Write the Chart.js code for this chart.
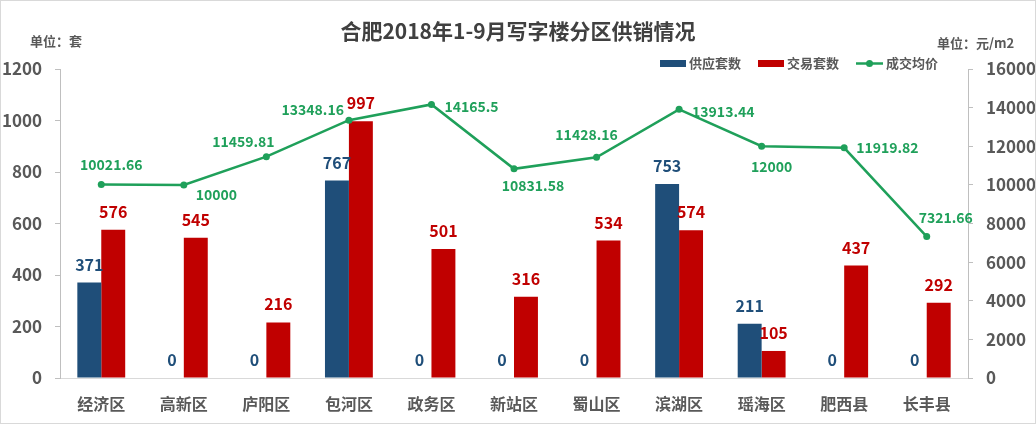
<!DOCTYPE html>
<html>
<head>
<meta charset="utf-8">
<script src="https://cdn.jsdelivr.net/npm/chart.js@4/dist/chart.umd.min.js"></script>
<style>
  html, body { margin: 0; padding: 0; background: #fff; }
  #wrap { width: 1036px; height: 424px; }
</style>
</head>
<body>
<div id="wrap"><canvas id="officeChart" width="1036" height="424"></canvas></div>
<script>
const districts = ["经济区", "高新区", "庐阳区", "包河区", "政务区", "新站区", "蜀山区", "滨湖区", "瑶海区", "肥西县", "长丰县"];
const supplyUnits = [371, 0, 0, 767, 0, 0, 0, 753, 211, 0, 0];
const dealUnits = [576, 545, 216, 997, 501, 316, 534, 574, 105, 437, 292];
const avgPrice = [10021.66, 10000, 11459.81, 13348.16, 14165.5, 10831.58, 11428.16, 13913.44, 12000, 11919.82, 7321.66];
const unitTicks = [0, 200, 400, 600, 800, 1000, 1200];
const priceTicks = [0, 2000, 4000, 6000, 8000, 10000, 12000, 14000, 16000];

// where each price label sits relative to its point: [dx, dy, align]
const priceLabelPos = [
    [10, -20, "center"], [12, 10, "left"], [-23, -15, "center"], [-5, -11, "right"],
    [13, 2, "left"], [19, 17, "center"], [-10, -23, "center"], [13, 2, "left"],
    [10, 20, "center"], [12, 0, "left"], [19, -19, "center"]
];

const BLUE = "#1F4E79";
const RED = "#C00000";
const GREEN = "#1FA05A";
const GREY = "#595959";
const FONT = "'Noto Sans CJK SC', 'Noto Sans', sans-serif";

const decorPlugin = {
    id: "decor",
    afterDatasetsDraw(chart) {
        const ctx = chart.ctx;
        ctx.save();
        ctx.textBaseline = "middle";

        // bar value labels
        [[0, BLUE], [1, RED]].forEach(([di, color]) => {
            const meta = chart.getDatasetMeta(di);
            const values = chart.data.datasets[di].data;
            ctx.fillStyle = color;
            ctx.font = "bold 16px " + FONT;
            ctx.textAlign = "center";
            meta.data.forEach((bar, i) => {
                ctx.fillText(String(values[i]), bar.x, bar.y - 18);
            });
        });

        // price labels
        const lineMeta = chart.getDatasetMeta(2);
        ctx.fillStyle = GREEN;
        ctx.font = "bold 14px " + FONT;
        lineMeta.data.forEach((pt, i) => {
            const [dx, dy, align] = priceLabelPos[i];
            ctx.textAlign = align;
            ctx.fillText(String(avgPrice[i]), pt.x + dx, pt.y + dy);
        });
        ctx.restore();
    },
    afterDraw(chart) {
        const ctx = chart.ctx;
        ctx.save();
        ctx.textBaseline = "middle";

        // title
        ctx.fillStyle = "#404040";
        ctx.font = "bold 21px " + FONT;
        ctx.textAlign = "center";
        ctx.fillText("合肥2018年1-9月写字楼分区供销情况", 518, 31);

        // unit notes
        ctx.fillStyle = GREY;
        ctx.font = "bold 13px " + FONT;
        ctx.textAlign = "left";
        ctx.fillText("单位：套", 30, 41);
        ctx.fillText("单位：元/m2", 937, 43);

        // legend
        ctx.font = "bold 13px " + FONT;
        ctx.fillStyle = BLUE;
        ctx.fillRect(660, 60, 26, 7);
        ctx.fillStyle = RED;
        ctx.fillRect(758, 60, 26, 7);
        ctx.strokeStyle = GREEN;
        ctx.lineWidth = 2.5;
        ctx.beginPath();
        ctx.moveTo(856, 63.5);
        ctx.lineTo(883, 63.5);
        ctx.stroke();
        ctx.fillStyle = GREEN;
        ctx.beginPath();
        ctx.arc(869.5, 63.5, 3.5, 0, Math.PI * 2);
        ctx.fill();
        ctx.fillStyle = GREY;
        ctx.fillText("供应套数", 689, 63);
        ctx.fillText("交易套数", 787, 63);
        ctx.fillText("成交均价", 886, 63);

        // frame
        ctx.strokeStyle = "#d9d9d9";
        ctx.lineWidth = 1;
        ctx.strokeRect(0.5, 0.5, 1035, 423);
        ctx.restore();
    }
};

new Chart(document.getElementById("officeChart").getContext("2d"), {
    data: {
        labels: districts,
        datasets: [
            {
                type: "bar",
                label: "供应套数",
                data: supplyUnits,
                backgroundColor: BLUE,
                yAxisID: "y",
                order: 2,
                barPercentage: 1,
                categoryPercentage: 0.58,
            },
            {
                type: "bar",
                label: "交易套数",
                data: dealUnits,
                backgroundColor: RED,
                yAxisID: "y",
                order: 2,
                barPercentage: 1,
                categoryPercentage: 0.58,
            },
            {
                type: "line",
                label: "成交均价",
                data: avgPrice,
                borderColor: GREEN,
                backgroundColor: GREEN,
                borderWidth: 2.5,
                pointRadius: 3.5,
                pointBackgroundColor: GREEN,
                pointBorderWidth: 0,
                tension: 0,
                yAxisID: "y1",
                order: 0,
            },
        ],
    },
    options: {
        responsive: false,
        animation: false,
        devicePixelRatio: 1,
        layout: { padding: { top: 69, left: 0, right: 0, bottom: 0 } },
        plugins: {
            legend: { display: false },
            title: { display: false },
            tooltip: { enabled: false },
        },
        scales: {
            x: {
                grid: { display: false, drawTicks: false },
                border: { display: true, color: "#d9d9d9" },
                ticks: { color: GREY, font: { family: FONT, size: 16, weight: "bold" }, padding: 16, maxRotation: 0 },
                afterFit(scale) { scale.height = 46; },
            },
            y: {
                position: "left",
                min: unitTicks[0],
                max: unitTicks[unitTicks.length - 1],
                afterBuildTicks(scale) { scale.ticks = unitTicks.map(v => ({ value: v })); },
                grid: { drawOnChartArea: false, tickLength: 5, color: "#bfbfbf" },
                border: { display: true, color: "#bfbfbf" },
                ticks: {
                    color: GREY, font: { family: FONT, size: 17, weight: "bold" }, padding: 13,
                    callback: v => String(v),
                },
                afterFit(scale) { scale.width = 60; },
            },
            y1: {
                position: "right",
                min: priceTicks[0],
                max: priceTicks[priceTicks.length - 1],
                afterBuildTicks(scale) { scale.ticks = priceTicks.map(v => ({ value: v })); },
                grid: { drawOnChartArea: false, tickLength: 5, color: "#bfbfbf" },
                border: { display: true, color: "#bfbfbf" },
                ticks: {
                    color: GREY, font: { family: FONT, size: 17, weight: "bold" }, padding: 13,
                    callback: v => String(v),
                },
                afterFit(scale) { scale.width = 68; },
            },
        },
    },
    plugins: [decorPlugin],
});
</script>
</body>
</html>
